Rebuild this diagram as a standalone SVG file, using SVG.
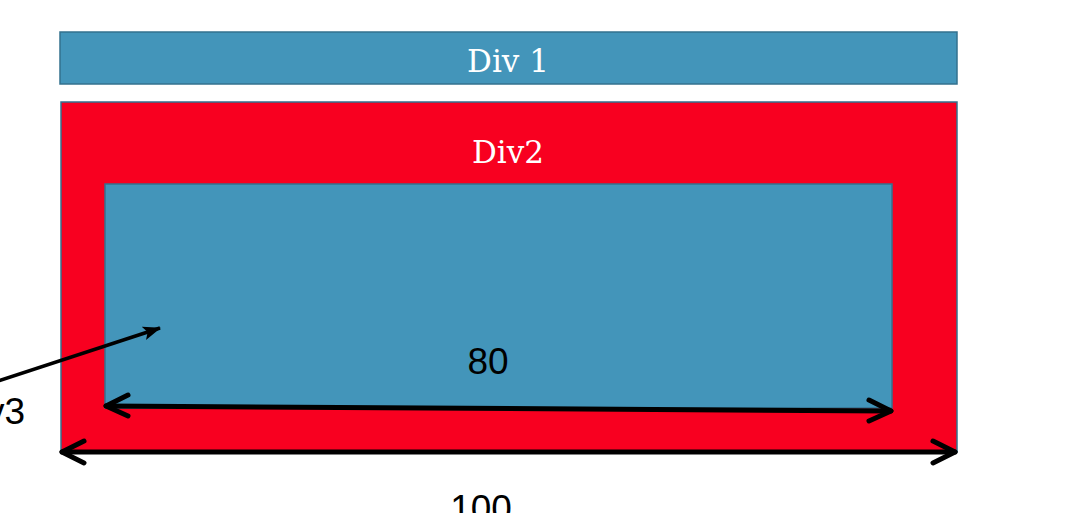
<svg xmlns="http://www.w3.org/2000/svg" width="1087" height="513" viewBox="0 0 1087 513">
<style>
.blue{fill:#4395BA;stroke:#33728E;stroke-width:1.5}
.red{fill:#F80020;stroke:#33728E;stroke-width:1.5}
.serif{font-family:"DejaVu Serif","Liberation Serif",serif;fill:#fff;font-size:31px;text-anchor:middle}
.sans{font-family:"Liberation Sans",Arial,sans-serif;fill:#000;font-size:37px;text-anchor:middle}
.dim{stroke:#000;stroke-width:5;fill:none;stroke-linecap:round;stroke-linejoin:round}
</style>
<defs>
<marker id="tri" markerWidth="18" markerHeight="14" refX="17" refY="7" orient="auto" markerUnits="userSpaceOnUse" viewBox="0 0 18 14">
<path d="M0,0 L18,7 L0,14 L4,7 Z" fill="#000"/>
</marker>
</defs>
<g id="div1">
<rect class="blue" x="60" y="32" width="897" height="52"/>
<text class="serif" x="508" y="72">Div 1</text>
</g>
<g id="div2">
<rect class="red" x="61" y="102" width="896" height="350"/>
<text class="serif" x="508" y="163">Div2</text>
</g>
<g id="div3">
<rect class="blue" x="105" y="184" width="787" height="224"/>
</g>
<g id="labels">
<text class="sans" x="488" y="374">80</text>
<text class="sans" x="481" y="521">100</text>
<text class="sans" x="25" y="424" style="text-anchor:end">Div3</text>
</g>
<g id="connectors">
<line x1="-2" y1="381" x2="160" y2="328" stroke="#000" stroke-width="3.5" marker-end="url(#tri)"/>
<path class="dim" d="M106,406 L891,411"/>
<path class="dim" d="M128,395 L106,406 L128,416"/>
<path class="dim" d="M869,400 L891,411 L869,421"/>
<path class="dim" d="M62,452 L955,452"/>
<path class="dim" d="M84,441 L62,452 L84,463"/>
<path class="dim" d="M933,441 L955,452 L933,463"/>
</g>
</svg>
